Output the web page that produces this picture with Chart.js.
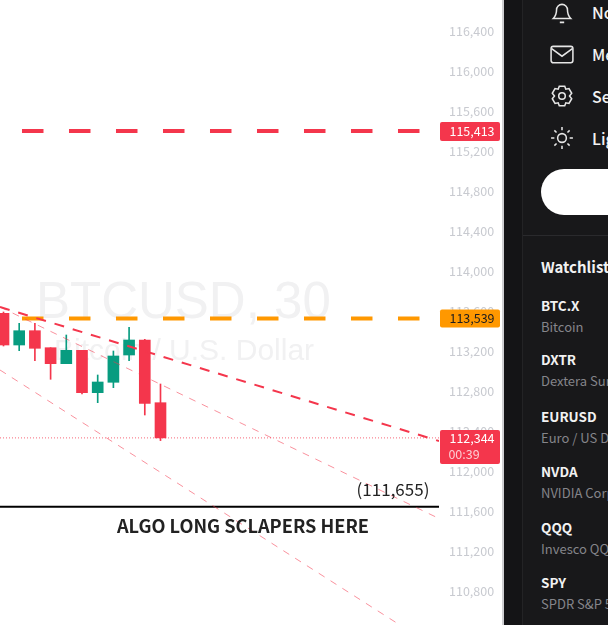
<!DOCTYPE html>
<html lang="en">
<head>
    <meta charset="UTF-8">
    <title>BTCUSD, 30</title>
    <script src="https://cdn.jsdelivr.net/npm/chart.js"></script>
    <style>
        html, body {
            margin: 0;
            width: 608px;
            height: 625px;
            overflow: hidden;
            background: #fff;
            font-family: "Noto Sans CJK SC", "Noto Sans", sans-serif;
        }
        #chart {
            position: absolute;
            left: 0;
            top: 0;
        }
        #edge {
            position: absolute;
            left: 502px;
            top: 0;
            width: 2px;
            height: 625px;
            background: #cfcfd2;
        }
        #side {
            position: absolute;
            left: 504px;
            top: 0;
            width: 104px;
            height: 625px;
            background: #18181a;
            overflow: hidden;
            color: #f2f2f2;
        }
        #strip {
            position: absolute;
            left: 0;
            top: 0;
            width: 18px;
            height: 625px;
            background: #141416;
            border-right: 1px solid #232325;
        }
        #rule {
            position: absolute;
            left: 19px;
            top: 235px;
            width: 85px;
            height: 1px;
            background: #2a2a2d;
        }
        #pill {
            position: absolute;
            left: 37px;
            top: 169px;
            width: 120px;
            height: 46px;
            border-radius: 23px;
            background: #fff;
        }
        .t {
            position: absolute;
            white-space: nowrap;
            line-height: 20px;
        }
        .menu { left: 88px; font-size: 16px; font-weight: 500; }
        .name { left: 37px; font-size: 13.5px; font-weight: 700; }
        .desc { left: 37px; font-size: 13px; color: #85858a; }
        svg {
            position: absolute;
            left: 46px;
            width: 24px;
            height: 24px;
            fill: none;
            stroke: #e6e6e6;
            stroke-width: 1.4;
        }
    </style>
</head>
<body>
    <canvas id="chart" width="502" height="625"></canvas>
    <div id="edge"></div>
    <div id="side">
        <div id="strip"></div>
        <svg style="top:0px" viewBox="0 0 22 22"><path d="M3 17c2-2 3-4 3-8a5 5 0 0 1 10 0c0 4 1 6 3 8zM9 20.500h4"/></svg>
        <svg style="top:42px" viewBox="0 0 22 22"><rect x="1" y="4" width="20" height="15" rx="2"/><path d="M1.500 6l9.500 7 9.500-7"/></svg>
        <svg style="top:84px" viewBox="0 0 22 22"><circle cx="11" cy="11" r="3"/><path d="M8.500 2h5l1 2.800 2.900-.6 2.500 4.300-2 2.500 2 2.500-2.500 4.300-2.900-.6-1 2.800h-5l-1-2.800-2.900.6-2.500-4.300 2-2.500-2-2.500 2.500-4.300 2.900.6z"/></svg>
        <svg style="top:126px" viewBox="0 0 22 22"><circle cx="11" cy="11" r="4"/><path d="M11 1v3M11 18v3M1 11h3M18 11h3M4 4l2 2M16 16l2 2M18 4l-2 2M6 16l-2 2"/></svg>
        <div class="t menu" style="top:2px">No</div>
        <div class="t menu" style="top:44px">Me</div>
        <div class="t menu" style="top:86px">Se</div>
        <div class="t menu" style="top:128px">Lig</div>
        <div id="pill"></div>
        <div id="rule"></div>
        <div class="t" style="left:37px;top:257px;font-size:15px;font-weight:700">Watchlist</div>
        <div id="watch"></div>
    </div>

    <script>
        // candles, oldest first
        const opens = [113590, 113273, 113416, 113246, 113086, 113220, 112796, 112900, 113173, 113323, 112696];
        const highs = [113603, 113490, 113490, 113246, 113373, 113220, 112973, 113213, 113450, 113330, 112883];
        const lows = [113263, 113216, 113116, 112930, 113086, 112783, 112696, 112846, 113116, 112573, 112317];
        const closes = [113273, 113416, 113240, 113086, 113220, 112796, 112903, 113163, 113323, 112690, 112344];

        const priceTicks = [116400, 116000, 115600, 115200, 114800, 114400, 114000, 113600, 113200, 112800, 112400, 112000, 111600, 111200, 110800];

        const upperLevel = 115413;
        const middleLevel = 113539;
        const lastPrice = 112344;
        const supportLevel = 111655;
        const countdown = "00:39";

        // trend lines: [bar index, price]
        const trendA = [[-0.223, 113653], [27.74, 112313]];
        const trendB = [[-0.223, 113653], [27.74, 111538]];
        const trendC = [[-0.223, 113023], [25.25, 110473]];
        const levelSpan = [1.178, 26.53];

        const watchNames = ["BTC.X", "DXTR", "EURUSD", "NVDA", "QQQ", "SPY"];
        const watchDescs = ["Bitcoin", "Dextera Sur", "Euro / US D", "NVIDIA Corp", "Invesco QQ", "SPDR S&P 5"];
        const watchTops = [295, 349, 406, 461, 517, 572];

        const RED = "#f4364c";
        const GREEN = "#089c80";
        const FONT = '"Noto Sans CJK SC", "Noto Sans", sans-serif';

        const watch = document.getElementById("watch");
        watchNames.forEach((name, i) => {
            watch.innerHTML += `<div class="t name" style="top:${watchTops[i]}px">${name}</div>`;
            watch.innerHTML += `<div class="t desc" style="top:${watchTops[i] + 22}px">${watchDescs[i].replace("&", "&amp;")}</div>`;
        });

        const candleColors = opens.map((o, i) => closes[i] >= o ? GREEN : RED);

        function toPoints(pairs) {
            return pairs.map(p => ({ x: p[0], y: p[1] }));
        }

        function levelLine(price) {
            return levelSpan.map(x => ({ x: x, y: price }));
        }

        function lineSet(data, color, width, dash) {
            return {
                type: "line",
                data: data,
                borderColor: color,
                borderWidth: width,
                borderDash: dash,
                pointRadius: 0,
                order: 1
            };
        }

        function priceBox(ctx, x, y, w, h, color) {
            ctx.fillStyle = color;
            ctx.beginPath();
            ctx.roundRect(x, y, w, h, 2);
            ctx.fill();
        }

        const watermark = {
            id: "watermark",
            beforeDatasetsDraw(chart) {
                const ctx = chart.ctx;
                ctx.save();
                ctx.fillStyle = "#f1f1f2";
                ctx.textBaseline = "middle";
                ctx.font = "51px Liberation Sans";
                ctx.fillText("BTCUSD, 30", 36, 304);
                ctx.font = "30px Liberation Sans";
                ctx.fillText("Bitcoin / U.S. Dollar", 54, 352);
                ctx.restore();
            }
        };

        const annotations = {
            id: "annotations",
            afterDraw(chart) {
                const ctx = chart.ctx;
                const yScale = chart.scales.y;
                const left = chart.chartArea.right + 1;
                const middleX = left + 32;

                ctx.save();
                ctx.textBaseline = "middle";
                ctx.textAlign = "center";

                let y = yScale.getPixelForValue(upperLevel);
                priceBox(ctx, left, y - 9, 60, 19, RED);
                ctx.fillStyle = "#fff";
                ctx.font = "12.5px " + FONT;
                ctx.fillText(upperLevel.toLocaleString("en-US"), middleX, y);

                y = yScale.getPixelForValue(middleLevel);
                priceBox(ctx, left, y - 9, 60, 18, "#ff9800");
                ctx.fillStyle = "#1d1d1f";
                ctx.fillText(middleLevel.toLocaleString("en-US"), middleX, y);

                y = yScale.getPixelForValue(lastPrice);
                priceBox(ctx, left, y - 8, 60, 34, RED);
                ctx.fillStyle = "#fff";
                ctx.fillText(lastPrice.toLocaleString("en-US"), middleX, y);
                ctx.fillStyle = "rgba(255,255,255,0.75)";
                ctx.fillText(countdown, middleX - 8, y + 16);

                y = yScale.getPixelForValue(supportLevel);
                ctx.fillStyle = "#222";
                ctx.font = "17px " + FONT;
                ctx.fillText("(" + supportLevel.toLocaleString("en-US") + ")", 393, y - 17);
                ctx.font = "700 18.200px " + FONT;
                ctx.fillText("ALGO LONG SCLAPERS HERE", 243, y + 19);
                ctx.restore();
            }
        };

        new Chart(document.getElementById("chart"), {
            type: "bar",
            data: {
                datasets: [
                    {
                        data: opens.map((o, i) => ({ x: i, y: [lows[i], highs[i]] })),
                        backgroundColor: candleColors,
                        barThickness: 1,
                        grouped: false,
                        order: 3
                    },
                    {
                        data: opens.map((o, i) => ({ x: i, y: [o, closes[i]] })),
                        backgroundColor: candleColors,
                        barThickness: 11,
                        grouped: false,
                        order: 2
                    },
                    lineSet(toPoints(trendA), RED, 2, [10, 9]),
                    lineSet(toPoints(trendB), "rgba(244,54,76,0.55)", 1, [7, 7]),
                    lineSet(toPoints(trendC), "rgba(244,54,76,0.55)", 1, [7, 7]),
                    lineSet(levelLine(upperLevel), RED, 4, [21.5, 25.5]),
                    lineSet(levelLine(middleLevel), "#ff9800", 4, [21.5, 25.5]),
                    lineSet(toPoints([[-0.223, lastPrice], [27.74, lastPrice]]), "rgba(244,54,76,0.75)", 1, [1, 2]),
                    lineSet(toPoints([[-0.223, supportLevel], [27.74, supportLevel]]), "#000", 2, [])
                ]
            },
            options: {
                responsive: false,
                animation: false,
                layout: { padding: 0, autoPadding: false },
                plugins: {
                    legend: { display: false },
                    tooltip: { enabled: false }
                },
                scales: {
                    x: {
                        type: "linear",
                        display: false,
                        offset: false,
                        min: -0.223,
                        max: 27.74
                    },
                    y: {
                        position: "right",
                        min: 110473,
                        max: 116723,
                        grid: { display: false, drawTicks: false },
                        border: { display: false },
                        afterBuildTicks(scale) {
                            scale.ticks = priceTicks.map(v => ({ value: v }));
                        },
                        afterFit(scale) {
                            scale.width = 63;
                            scale.paddingTop = 0;
                            scale.paddingBottom = 0;
                        },
                        ticks: {
                            padding: 10,
                            labelOffset: -1,
                            color: "#c8cad0",
                            font: { family: FONT, size: 12.5 },
                            autoSkip: false,
                            callback: v => v.toLocaleString("en-US")
                        }
                    }
                }
            },
            plugins: [watermark, annotations]
        });
    </script>
</body>
</html>
